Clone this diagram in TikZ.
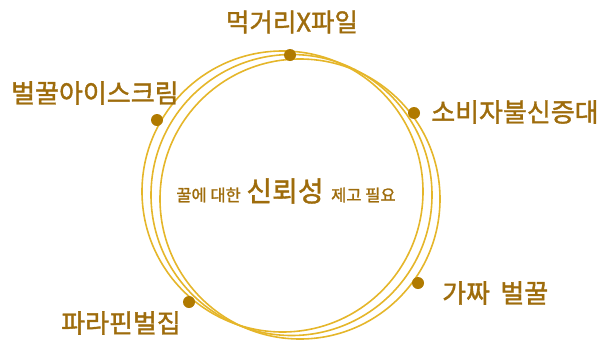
\documentclass[tikz,border=0pt]{standalone}
\usepackage{fontspec}
\setmainfont{Noto Sans CJK KR}[BoldFont={Noto Sans CJK KR},BoldFeatures={FakeBold=1.4}]
\definecolor{ring}{HTML}{E5B62A}
\definecolor{dotc}{HTML}{B07A00}
\definecolor{txt}{HTML}{9E6C0C}
\begin{document}
\begin{tikzpicture}[x=1pt,y=-1pt,
  ringline/.style={draw=ring,line width=1.6pt},
  dotnode/.style={circle,fill=dotc,inner sep=0pt,minimum size=12pt},
  lbl/.style={text=txt,inner sep=0pt,font=\fontsize{26}{28}\selectfont\bfseries},
  small/.style={text=txt,inner sep=0pt,font=\fontsize{16.5}{18}\selectfont\bfseries}]
\useasboundingbox (0,0) rectangle (599,343);
\draw[ringline] (282.5,191.5) circle (140.5);
\draw[ringline] (291.5,195) circle (140.5);
\draw[ringline] (300,199) circle (140);
\node[dotnode] (d1) at (290,55) {};
\node[dotnode] (d2) at (157,120) {};
\node[dotnode] (d3) at (414,113) {};
\node[dotnode] (d4) at (418,283) {};
\node[dotnode] (d5) at (189,302) {};
\node[lbl,font=\fontsize{25.5}{28}\selectfont\bfseries] (l1) at (292,22) {먹거리X파일};
\node[lbl,anchor=west] (l2) at (11,93) {벌꿀아이스크림};
\node[lbl,anchor=west] (l3) at (431,112) {소비자불신증대};
\node[lbl,anchor=west] (l4) at (442,293) {가짜\hspace{0.4em}벌꿀};
\node[lbl,anchor=west] (l5) at (61,323) {파라핀벌집};
\node[text=txt,inner sep=0pt,font=\fontsize{28}{30}\selectfont\bfseries] (c2) at (285,191) {신뢰성};
\node[small,anchor=east] (c1) at (241,195) {꿀에 대한};
\node[small,anchor=west] (c3) at (331,195) {제고 필요};
\end{tikzpicture}
\end{document}
